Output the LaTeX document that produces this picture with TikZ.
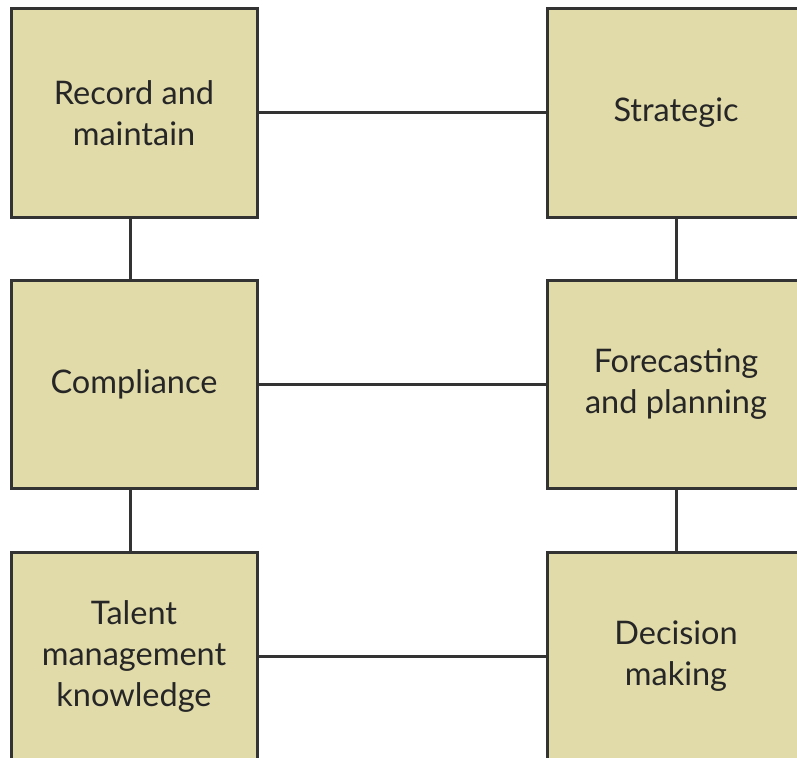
\documentclass[tikz,border=0pt]{standalone}
\usepackage{fontspec}
\setmainfont{Lato}
\usepackage{tikz}
\tikzset{
	hrbox/.style={draw=black!80, line width=3pt, fill=boxfill, minimum width=246pt,
		minimum height=208pt, align=center, inner sep=0pt, text=black!85,
		font=\fontsize{32.5}{41}\selectfont},
	hrlink/.style={draw=black!80, line width=3pt},
}
\definecolor{boxfill}{HTML}{E1DBAA}

\begin{document}
\begin{tikzpicture}[x=1pt,y=-1pt]
		\clip (0,0) rectangle (797,757);
		\node[hrbox] (record) at (134,113) {Record and\\maintain};
		\node[hrbox] (compliance) at (134,384) {Compliance};
		\node[hrbox] (talent) at (134,656) {Talent\\management\\knowledge};
		\node[hrbox, minimum width=258pt] (strategic) at (676,113) {Strategic};
		\node[hrbox, minimum width=258pt] (forecast) at (676,384) {Forecasting\\and planning};
		\node[hrbox, minimum width=258pt] (decision) at (676,656) {Decision\\making};
		% links
		\draw[hrlink] ([xshift=-4pt]record.south) -- ([xshift=-4pt]compliance.north)
			([xshift=-4pt]compliance.south) -- ([xshift=-4pt]talent.north);
		\draw[hrlink] (strategic) -- (forecast) -- (decision);
		\draw[hrlink] (record) -- (strategic);
		\draw[hrlink] (compliance) -- (forecast);
		\draw[hrlink] (talent) -- (decision);
	\end{tikzpicture}
\end{document}
